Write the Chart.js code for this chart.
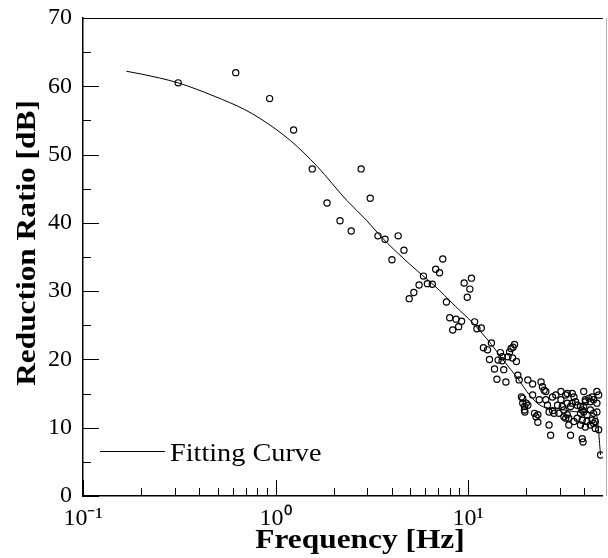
<!DOCTYPE html>
<html>
<head>
<meta charset="utf-8">
<script src="https://cdn.jsdelivr.net/npm/chart.js@4.4.1/dist/chart.umd.min.js"></script>
<style>
  html, body { margin: 0; padding: 0; background: #ffffff; overflow: hidden; }
  #wrap { width: 608px; height: 558px; position: relative; }
</style>
</head>
<body>
<div id="wrap"><canvas id="c" width="608" height="558"></canvas></div>
<script>
// ---- Data ----
const measFreq = [
  0.312, 0.621, 0.931, 1.24, 1.55, 1.85, 2.16, 2.47, 2.78, 3.10,
  3.40, 3.70, 4.02, 4.33, 4.64, 4.94, 5.22, 5.56, 5.86, 6.14,
  6.51, 6.78, 7.10, 7.38, 7.71, 8.02, 8.31, 8.65, 8.92, 9.24,
  9.53, 9.89, 10.2, 10.4, 10.8, 11.1, 11.7, 12.0, 12.6, 12.9,
  13.2, 13.7, 14.1, 14.3, 14.7, 15.0, 15.0, 15.3, 15.7, 16.1,
  16.4, 16.7, 17.0, 17.1, 17.4, 17.8, 18.1, 18.4, 18.9, 19.2,
  19.2, 19.6, 19.6, 19.7, 20.0, 20.4, 20.4, 21.6, 21.6, 22.1,
  22.5, 23.0, 23.0, 23.4, 23.9, 24.3, 24.8, 25.3, 25.3, 25.8,
  26.3, 26.3, 26.8, 27.4, 27.4, 27.9, 28.5, 29.1, 29.6, 30.3,
  30.3, 30.8, 31.4, 31.4, 32.1, 32.1, 32.7, 32.7, 32.7, 33.3,
  33.3, 34.0, 34.0, 34.7, 34.7, 35.4, 35.4, 36.1, 36.8, 36.8,
  38.3, 38.3, 38.3, 39.1, 39.1, 39.1, 39.5, 39.8, 39.8, 39.8,
  40.6, 40.6, 40.6, 41.4, 41.4, 42.3, 43.1, 43.1, 43.1, 44.0,
  44.0, 44.8, 44.8, 44.8, 45.7, 45.7, 46.6, 46.6, 46.6, 47.6,
  47.6, 48.7
];
const measRatio = [
  60.5, 62.0, 58.2, 53.6, 47.9, 42.9, 40.3, 38.8, 47.9, 43.6,
  38.1, 37.6, 34.6, 38.1, 36.0, 28.9, 29.8, 30.9, 32.2, 31.1,
  31.0, 33.2, 32.7, 34.7, 28.4, 26.1, 24.3, 25.9, 24.8, 25.6,
  31.2, 29.1, 30.3, 31.9, 25.5, 24.5, 24.6, 21.7, 21.4, 20.0,
  22.4, 18.6, 17.1, 19.9, 21.0, 19.8, 20.4, 18.5, 16.7, 20.4,
  21.1, 21.6, 20.2, 21.8, 22.2, 19.7, 17.7, 17.0, 14.5, 13.6,
  14.3, 12.6, 13.1, 12.3, 13.6, 13.3, 17.0, 16.4, 14.8, 12.1,
  11.6, 11.9, 10.8, 14.1, 16.7, 16.0, 15.5, 15.3, 14.1, 13.3,
  12.3, 10.4, 8.9, 12.5, 14.5, 12.1, 14.8, 13.3, 12.1, 15.3,
  14.1, 13.1, 12.6, 11.6, 14.8, 11.4, 15.0, 13.6, 11.9, 11.4,
  10.4, 13.1, 8.9, 15.0, 13.6, 14.5, 10.9, 13.8, 13.3, 11.4,
  13.1, 12.1, 10.4, 12.6, 11.1, 8.4, 7.9, 15.3, 13.1, 12.3,
  13.8, 14.1, 10.1, 11.9, 10.9, 14.3, 13.8, 12.6, 10.4, 14.5,
  11.1, 14.1, 12.1, 10.6, 10.9, 9.9, 13.6, 12.3, 15.3, 14.8,
  9.7, 6.0
];
const fitFreq  = [0.168, 0.2, 0.312, 0.485, 0.69, 0.84, 1.20, 1.64, 2.34, 2.96,
                  3.47, 4.22, 5.79, 6.63, 8.57, 10.6, 13.2, 15.5, 18.1, 20.8,
                  23.9, 30.0, 38.0, 46.4, 48.7];
const fitRatio = [62.2, 61.8, 60.5, 58.5, 56.6, 55.2, 52.0, 48.3, 43.3, 40.4,
                  38.2, 35.8, 32.3, 30.9, 27.8, 25.3, 22.2, 19.6, 17.2, 14.8,
                  13.2, 12.7, 12.3, 11.8, 6.0];

const xMin = 0.1, xMax = 50;
const yMin = 0, yMax = 70;
const xTickValues = [0.1, 1, 10];
const xTickLabels = ['10\u207B\u00B9', '10\u2070', '10\u00B9'];
const xMinorValues = [0.2,0.3,0.4,0.5,0.6,0.7,0.8,0.9, 2,3,4,5,6,7,8,9, 20,30,40];
const yTickValues = [0, 10, 20, 30, 40, 50, 60, 70];
const yMinorValues = [5, 15, 25, 35, 45, 55, 65];

const xTitle = 'Frequency [Hz]';
const yTitle = 'Reduction Ratio [dB]';
const fitLabel = 'Fitting Curve';

const SERIF = '"Liberation Serif", "Times New Roman", serif';

const decor = {
  id: 'decor',
  afterDraw(chart) {
    const ctx = chart.ctx;
    const xs = chart.scales.x, ys = chart.scales.y;
    const a = chart.chartArea;
    ctx.save();
    ctx.strokeStyle = '#000';
    ctx.lineWidth = 1;
    ctx.beginPath();
    xTickValues.forEach(v => { const px = Math.round(xs.getPixelForValue(v)) + 0.5; ctx.moveTo(px, a.bottom); ctx.lineTo(px, a.bottom - 16); });
    xMinorValues.forEach(v => { const px = Math.round(xs.getPixelForValue(v)) + 0.5; ctx.moveTo(px, a.bottom); ctx.lineTo(px, a.bottom - 8); });
    yTickValues.forEach(v => { const py = Math.round(ys.getPixelForValue(v)) + 0.5; ctx.moveTo(a.left, py); ctx.lineTo(a.left + 16, py); });
    yMinorValues.forEach(v => { const py = Math.round(ys.getPixelForValue(v)) + 0.5; ctx.moveTo(a.left, py); ctx.lineTo(a.left + 8, py); });
    ctx.moveTo(a.left, Math.round(a.top) + 0.5);
    ctx.lineTo(a.right, Math.round(a.top) + 0.5);
    ctx.stroke();
    ctx.strokeStyle = '#b0b0b0';
    ctx.beginPath();
    ctx.moveTo(606.5, a.top); ctx.lineTo(606.5, a.bottom);
    ctx.stroke();

    // legend
    ctx.strokeStyle = '#000';
    ctx.lineWidth = 1;
    ctx.beginPath();
    ctx.moveTo(100, 451.5); ctx.lineTo(165, 451.5);
    ctx.stroke();
    ctx.fillStyle = '#000';
    ctx.font = '25px ' + SERIF;
    ctx.textBaseline = 'alphabetic';
    ctx.textAlign = 'left';
    ctx.save();
    ctx.translate(170, 461);
    ctx.scale(1.13, 1);
    ctx.fillText(fitLabel, 0, 0);
    ctx.restore();

    // axis titles
    ctx.font = 'bold 28px ' + SERIF;
    ctx.textAlign = 'center';
    ctx.save();
    ctx.translate(360, 548);
    ctx.scale(1.12, 1);
    ctx.fillText(xTitle, 0, 0);
    ctx.restore();
    ctx.save();
    ctx.translate(35, 243);
    ctx.rotate(-Math.PI / 2);
    ctx.scale(1.12, 1);
    ctx.fillText(yTitle, 0, 0);
    ctx.restore();
    ctx.restore();
  }
};

new Chart(document.getElementById('c'), {
  type: 'scatter',
  data: {
    datasets: [
      {
        label: 'Measured',
        data: measFreq.map((f, i) => ({ x: f, y: measRatio[i] })),
        pointStyle: 'circle',
        pointRadius: 3.1,
        pointBorderWidth: 1.2,
        pointBorderColor: '#000',
        pointBackgroundColor: 'rgba(0,0,0,0)',
        showLine: false
      },
      {
        label: fitLabel,
        data: fitFreq.map((f, i) => ({ x: f, y: fitRatio[i] })),
        showLine: true,
        borderColor: '#000',
        borderWidth: 1,
        pointRadius: 0,
        cubicInterpolationMode: 'monotone',
        fill: false
      }
    ]
  },
  options: {
    responsive: false,
    animation: false,
    layout: { padding: { top: 18, right: 0, left: 0, bottom: 0 } },
    plugins: { legend: { display: false }, tooltip: { enabled: false } },
    scales: {
      x: {
        type: 'logarithmic',
        min: xMin, max: xMax,
        afterFit(s) { s.height = 62; s.paddingLeft = 0; s.paddingRight = 0; },
        afterBuildTicks(s) { s.ticks = xTickValues.map(v => ({ value: v, major: true })); },
        grid: { display: false, drawTicks: false },
        border: { display: true, color: '#000', width: 1.5 },
        ticks: {
          autoSkip: false, maxRotation: 0, padding: 8, color: '#000',
          font: { family: SERIF, size: 24 },
          callback(value, index) { return xTickLabels[index]; }
        },
        title: { display: false, text: xTitle }
      },
      y: {
        min: yMin, max: yMax,
        afterFit(s) { s.width = 83; s.paddingTop = 0; s.paddingBottom = 0; },
        afterBuildTicks(s) { s.ticks = yTickValues.map(v => ({ value: v })); },
        grid: { display: false, drawTicks: false },
        border: { display: true, color: '#000', width: 1.5 },
        ticks: {
          padding: 11, color: '#000',
          font: { family: SERIF, size: 24 }
        },
        title: { display: false, text: yTitle }
      }
    }
  },
  plugins: [decor]
});
</script>
</body>
</html>
